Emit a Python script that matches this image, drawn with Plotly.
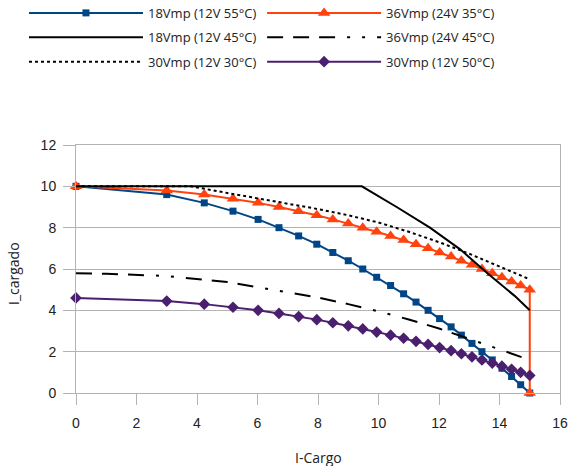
import plotly.graph_objects as go

# Shared x values for the marker series (I-Cargo)
x_pts = [0, 3.0, 4.24, 5.19, 6.02, 6.71, 7.36, 7.96, 8.49, 9.0, 9.48, 9.94, 10.4,
         10.83, 11.24, 11.64, 12.02, 12.4, 12.74, 13.09, 13.42, 13.76, 14.08,
         14.4, 14.7, 15.0]

y_18v_55 = [10, 9.6, 9.2, 8.8, 8.4, 8.0, 7.6, 7.2, 6.8, 6.4, 6.0, 5.6, 5.2, 4.8,
            4.4, 4.0, 3.6, 3.2, 2.8, 2.4, 2.0, 1.6, 1.2, 0.8, 0.4, 0.0]

x_36v_35 = x_pts + [15.0]
y_36v_35 = [10, 9.8, 9.6, 9.4, 9.2, 9.0, 8.8, 8.6, 8.4, 8.2, 8.0, 7.8, 7.6, 7.4,
            7.2, 7.0, 6.8, 6.6, 6.4, 6.2, 6.0, 5.8, 5.6, 5.4, 5.2, 5.0, 0.0]

y_30v_50 = [4.6, 4.45, 4.3, 4.15, 4.0, 3.85, 3.7, 3.55, 3.4, 3.25, 3.1, 2.95, 2.8,
            2.65, 2.5, 2.35, 2.2, 2.05, 1.9, 1.75, 1.6, 1.45, 1.3, 1.15, 1.0, 0.85]

x_18v_45 = [0, 9.45, 10.6, 11.7, 12.7, 13.6, 14.5, 15.0]
y_18v_45 = [10, 10, 9.0, 8.0, 6.95, 5.8, 4.7, 4.0]

x_36v_45 = [0, 1, 3, 5, 6, 7, 8, 9, 10, 11, 12, 13, 14, 15]
y_36v_45 = [5.8, 5.77, 5.66, 5.37, 5.12, 4.88, 4.62, 4.3, 3.95, 3.56, 3.12, 2.62, 2.12, 1.6]

x_30v_30 = [0, 3.8, 5, 6, 7, 8, 9, 10, 11, 12, 13, 14, 15]
y_30v_30 = [10, 10, 9.68, 9.43, 9.18, 8.9, 8.6, 8.25, 7.8, 7.3, 6.74, 6.12, 5.5]

names = ["18Vmp (12V 55°C)", "36Vmp (24V 35°C)", "18Vmp (12V 45°C)",
         "36Vmp (24V 45°C)", "30Vmp (12V 30°C)", "30Vmp (12V 50°C)"]

x_title = "I-Cargo"
y_title = "I_cargado"

BLUE = "#004586"
ORANGE = "#ff420e"
PURPLE = "#4b1f6f"
GRID = "#b3b3b3"
TXT = "#222"

fig = go.Figure()
fig.add_trace(go.Scatter(x=x_pts, y=y_18v_55, name=names[0], mode="lines+markers",
                         line=dict(color=BLUE, width=2),
                         marker=dict(symbol="square", size=7, color=BLUE),
                         cliponaxis=False, legend="legend", legendgroup="a"))
fig.add_trace(go.Scatter(x=x_36v_35, y=y_36v_35, name=names[1], mode="lines+markers",
                         line=dict(color=ORANGE, width=2),
                         marker=dict(symbol="triangle-up", size=11, color=ORANGE),
                         cliponaxis=False, legend="legend2", legendgroup="b"))
fig.add_trace(go.Scatter(x=x_18v_45, y=y_18v_45, name=names[2], mode="lines",
                         line=dict(color="black", width=2),
                         legend="legend", legendgroup="c"))
fig.add_trace(go.Scatter(x=x_36v_45, y=y_36v_45, name=names[3], mode="lines",
                         line=dict(color="black", width=2,
                                   dash="16px,10px,16px,10px,16px,12px,3px,12px,3px,12px"),
                         legend="legend2", legendgroup="d"))
fig.add_trace(go.Scatter(x=x_30v_30, y=y_30v_30, name=names[4], mode="lines",
                         line=dict(color="black", width=2, dash="3px,3px"),
                         legend="legend", legendgroup="e"))
fig.add_trace(go.Scatter(x=x_pts, y=y_30v_50, name=names[5], mode="lines+markers",
                         line=dict(color=PURPLE, width=2),
                         marker=dict(symbol="diamond", size=9, color=PURPLE),
                         cliponaxis=False, legend="legend2", legendgroup="f"))

leg_common = dict(orientation="v", xref="container", yref="paper",
                  y=1.593, xanchor="left", yanchor="top",
                  itemwidth=114, tracegroupgap=4.5,
                  font=dict(family="Open Sans", size=13, color=TXT),
                  traceorder="grouped", bgcolor="rgba(0,0,0,0)")

fig.update_layout(
    width=571, height=466,
    margin=dict(l=76, r=11, t=145, b=73, autoexpand=False),
    paper_bgcolor="white", plot_bgcolor="white",
    font=dict(family="Open Sans", size=13, color=TXT),
    legend=dict(x=0.042, **leg_common),
    legend2=dict(x=0.459, **leg_common),
    showlegend=True,
    annotations=[
        dict(text=x_title, xref="paper", yref="paper", x=0.5, y=-0.262,
             showarrow=False, xanchor="center", yanchor="middle",
             font=dict(family="Open Sans", size=14, color=TXT)),
        dict(text=y_title, xref="paper", yref="paper", x=-0.128, y=0.48,
             showarrow=False, xanchor="center", yanchor="middle", textangle=-90,
             font=dict(family="Open Sans", size=14, color=TXT)),
    ],
)
fig.update_xaxes(range=[0, 16], tickvals=[0, 2, 4, 6, 8, 10, 12, 14, 16],
                 showgrid=False, zeroline=False, showline=True, mirror=True,
                 linecolor=GRID, linewidth=1, ticks="outside", ticklen=11,
                 tickcolor=GRID, automargin=False, ticklabelstandoff=6,
                 tickfont=dict(family="Liberation Sans", size=14, color=TXT))
fig.update_yaxes(range=[0, 12], tickvals=[0, 2, 4, 6, 8, 10, 12],
                 showgrid=True, gridcolor=GRID, gridwidth=1, zeroline=False,
                 showline=True, mirror=True, linecolor=GRID, linewidth=1,
                 ticks="outside", ticklen=12, tickcolor=GRID, automargin=False,
                 ticklabelstandoff=4,
                 tickfont=dict(family="Liberation Sans", size=14, color=TXT))

fig.write_html("out.html", config={"displayModeBar": False},
               post_script="document.body.style.margin='0';")
